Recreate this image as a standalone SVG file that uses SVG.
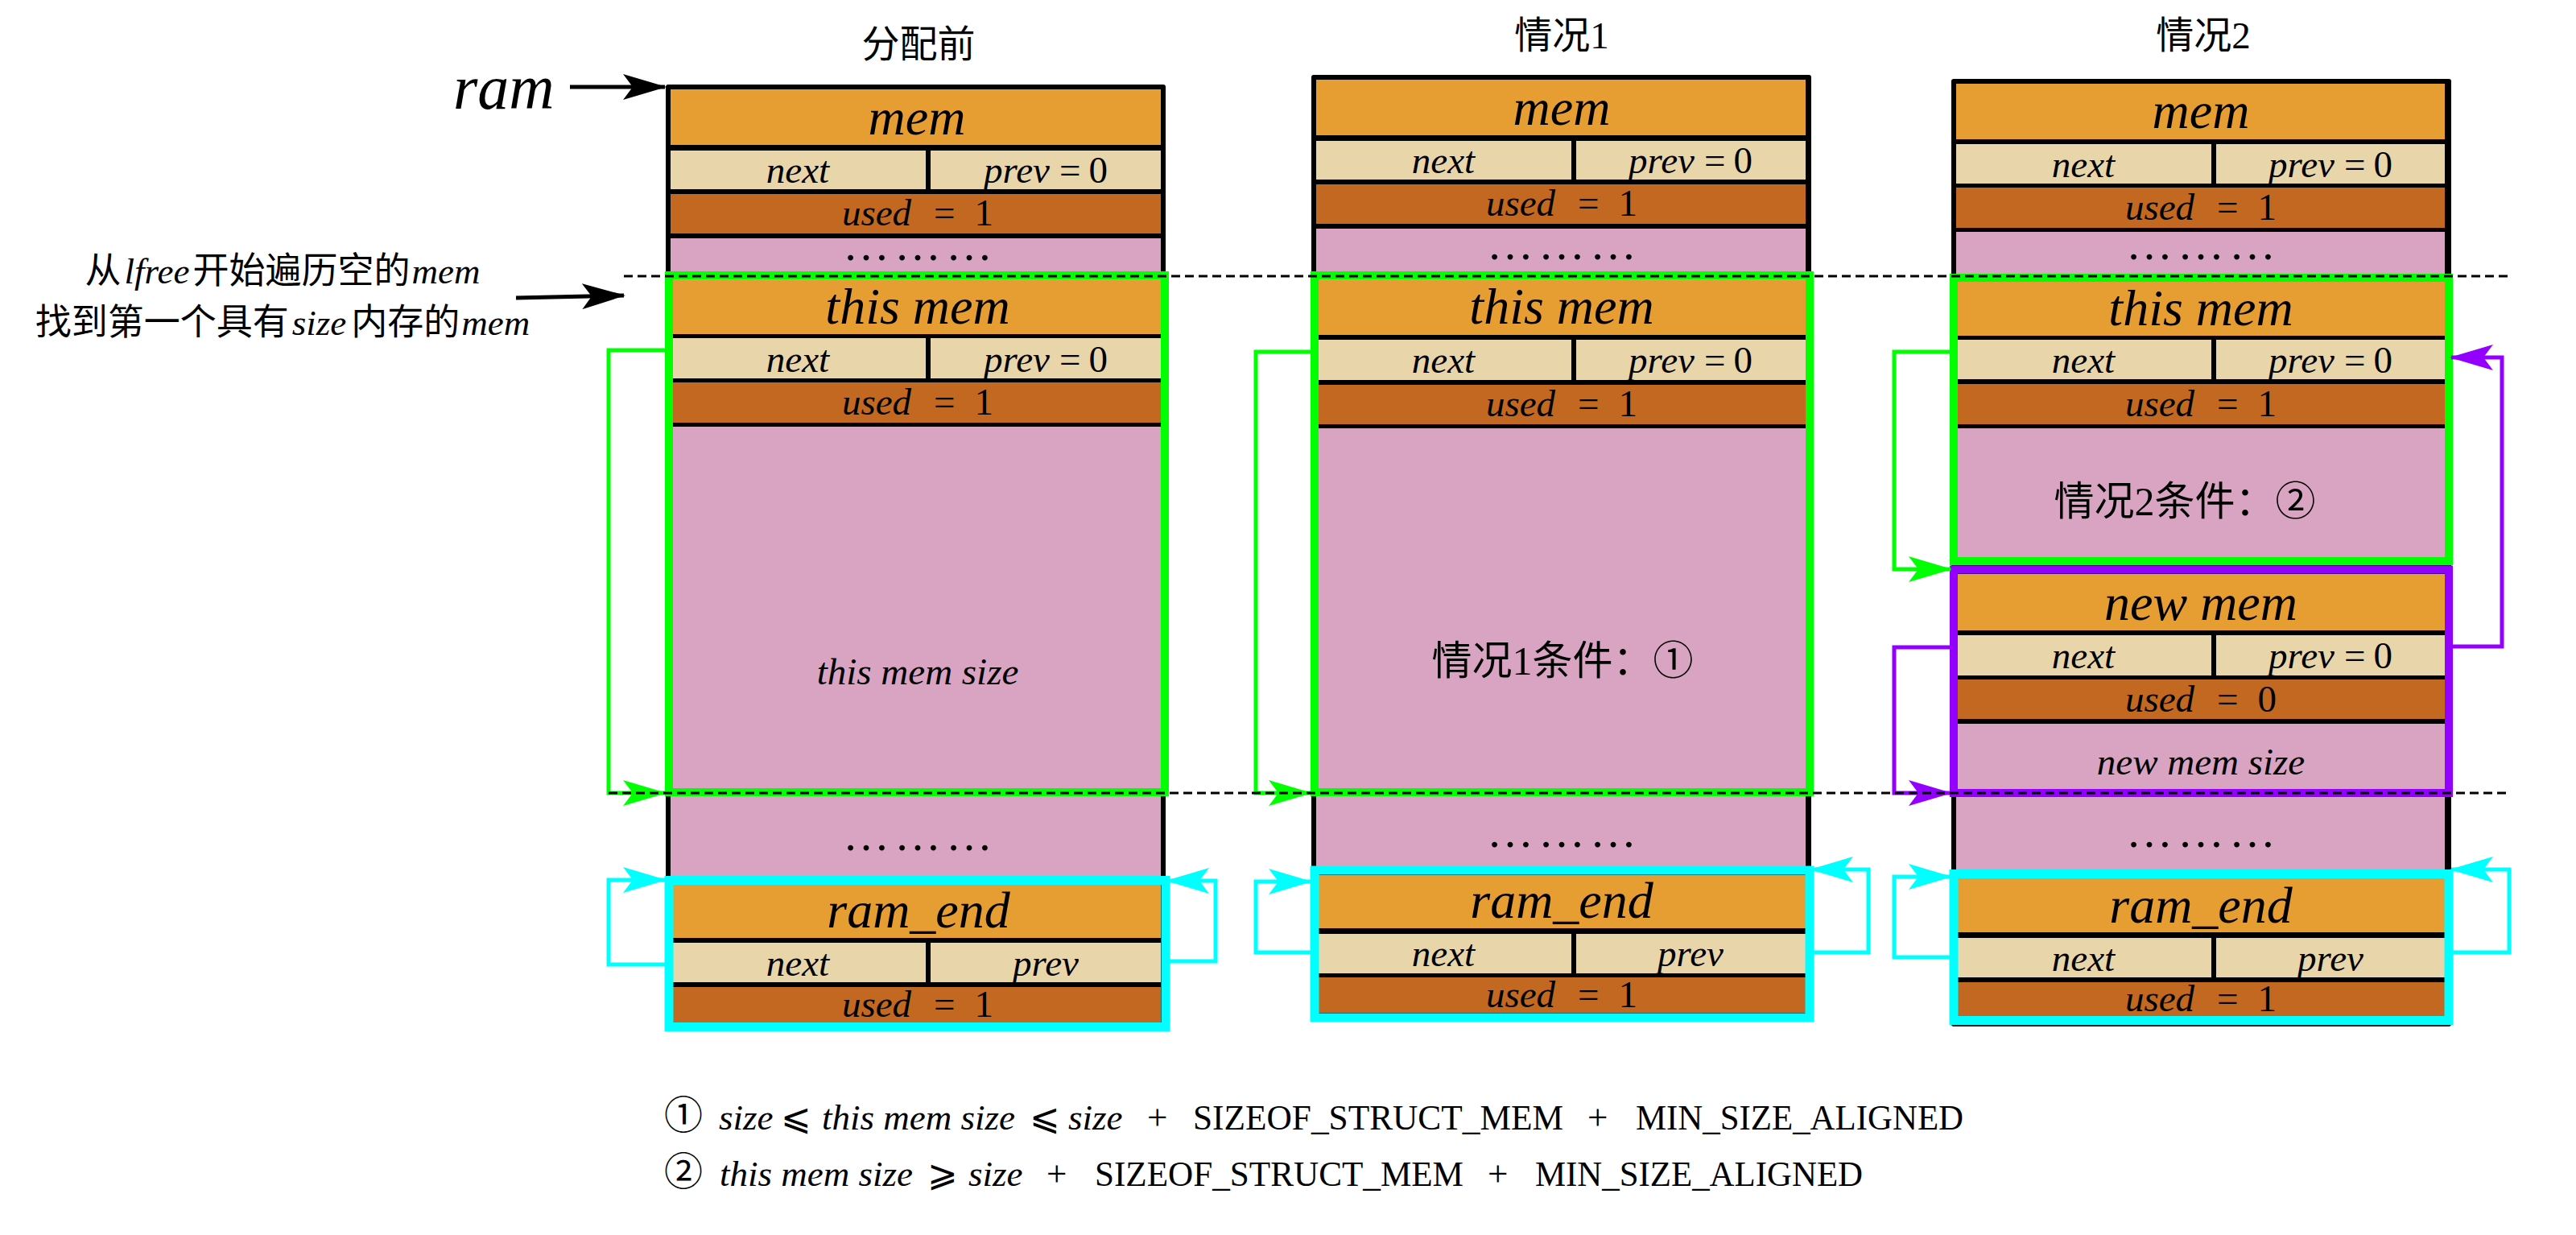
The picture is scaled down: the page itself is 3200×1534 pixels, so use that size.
<svg xmlns="http://www.w3.org/2000/svg" width="3200" height="1534" viewBox="0 0 3200 1534">
<defs>
<marker id="ak" markerUnits="userSpaceOnUse" markerWidth="54" markerHeight="32" viewBox="0 0 54 32" refX="52" refY="16" orient="auto"><path d="M0,0 L54,16 L0,32 L12,16 z" fill="#000"/></marker>
<marker id="ag" markerUnits="userSpaceOnUse" markerWidth="54" markerHeight="32" viewBox="0 0 54 32" refX="52" refY="16" orient="auto"><path d="M0,0 L54,16 L0,32 L12,16 z" fill="#00FF00"/></marker>
<marker id="ac" markerUnits="userSpaceOnUse" markerWidth="54" markerHeight="32" viewBox="0 0 54 32" refX="52" refY="16" orient="auto"><path d="M0,0 L54,16 L0,32 L12,16 z" fill="#00FFFF"/></marker>
<marker id="ap" markerUnits="userSpaceOnUse" markerWidth="54" markerHeight="32" viewBox="0 0 54 32" refX="52" refY="16" orient="auto"><path d="M0,0 L54,16 L0,32 L12,16 z" fill="#9400FF"/></marker>
</defs>
<rect width="3200" height="1534" fill="#fff"/>

<g id="titles">
<text font-family="Liberation Serif, Noto Sans CJK SC, sans-serif" font-size="47" text-anchor="middle" x="1141" y="71">分配前</text>
<text font-family="Liberation Serif, Noto Sans CJK SC, sans-serif" font-size="47" text-anchor="middle" x="1940" y="60">情况1</text>
<text font-family="Liberation Serif, Noto Sans CJK SC, sans-serif" font-size="47" text-anchor="middle" x="2737" y="60">情况2</text>
</g>
<g id="ram-label"><text font-family="Liberation Serif" font-style="italic" x="563" y="135" font-size="78">ram</text></g>
<g id="lfree-label">
<text font-family="Liberation Serif, Noto Sans CJK SC, sans-serif" x="351" y="352" font-size="45" text-anchor="middle">从<tspan font-style="italic" dx="4">lfree</tspan><tspan dx="4">开始遍历空的</tspan><tspan font-style="italic" dx="2">mem</tspan></text>
<text font-family="Liberation Serif, Noto Sans CJK SC, sans-serif" x="351" y="416" font-size="45" text-anchor="middle">找到第一个具有<tspan font-style="italic" dx="4">size</tspan><tspan dx="6">内存的</tspan><tspan font-style="italic" dx="2">mem</tspan></text>
</g>

<g id="col1">
<rect fill="#000" x="827" y="105" width="621" height="1170" rx="3"/>
<g id="c1-mem">
<rect fill="#E69D31" x="833" y="111" width="609" height="69"/>
<rect fill="#E9D5AA" x="833" y="187" width="317" height="48"/>
<rect fill="#E9D5AA" x="1156" y="187" width="286" height="48"/>
<rect fill="#C26820" x="833" y="241" width="609" height="49"/>
<text font-family="Liberation Serif" font-size="64" font-style="italic" text-anchor="middle" x="1139" y="167">mem</text>
<text font-family="Liberation Serif" font-size="47" font-style="italic" text-anchor="middle" x="991" y="227">next</text>
<text font-family="Liberation Serif" font-size="47" text-anchor="middle" x="1299" y="227"><tspan font-style="italic">prev</tspan><tspan dx="12">=</tspan><tspan dx="10">0</tspan></text>
<text font-family="Liberation Serif" font-size="47" text-anchor="middle" x="1140" y="280"><tspan font-style="italic">used</tspan><tspan dx="28">=</tspan><tspan dx="24">1</tspan></text>
</g>
<rect fill="#D9A4C2" x="833" y="296" width="609" height="52"/>
<text font-family="Liberation Serif" font-size="58" letter-spacing="6" text-anchor="middle" x="1143" y="323">………</text>
<g id="c1-thismem">
<rect fill="#E69D31" x="833" y="348" width="609" height="67"/>
<rect fill="#E9D5AA" x="833" y="420" width="317" height="50"/>
<rect fill="#E9D5AA" x="1156" y="420" width="286" height="50"/>
<rect fill="#C26820" x="833" y="475" width="609" height="50"/>
<rect fill="#D9A4C2" x="833" y="530" width="609" height="563"/>
<text font-family="Liberation Serif" font-size="64" font-style="italic" text-anchor="middle" x="1140" y="402">this mem</text>
<text font-family="Liberation Serif" font-size="47" font-style="italic" text-anchor="middle" x="991" y="462">next</text>
<text font-family="Liberation Serif" font-size="47" text-anchor="middle" x="1299" y="462"><tspan font-style="italic">prev</tspan><tspan dx="12">=</tspan><tspan dx="10">0</tspan></text>
<text font-family="Liberation Serif" font-size="47" text-anchor="middle" x="1140" y="515"><tspan font-style="italic">used</tspan><tspan dx="28">=</tspan><tspan dx="24">1</tspan></text>
<text font-family="Liberation Serif" font-size="47" font-style="italic" text-anchor="middle" x="1140" y="850">this mem size</text>
<rect fill="none" stroke="#00FF00" stroke-width="10" x="831" y="342" width="616" height="642"/>
</g>
<text font-family="Liberation Serif" font-size="58" letter-spacing="6" text-anchor="middle" x="1143" y="1056">………</text>
<g id="c1-ramend">
<rect fill="#E69D31" x="833" y="1099" width="609" height="66"/>
<rect fill="#E9D5AA" x="833" y="1171" width="317" height="49"/>
<rect fill="#E9D5AA" x="1156" y="1171" width="286" height="49"/>
<rect fill="#C26820" x="833" y="1226" width="609" height="44"/>
<text font-family="Liberation Serif" font-size="64" font-style="italic" text-anchor="middle" x="1141" y="1152">ram_end</text>
<text font-family="Liberation Serif" font-size="47" font-style="italic" text-anchor="middle" x="991" y="1212">next</text>
<text font-family="Liberation Serif" font-size="47" font-style="italic" text-anchor="middle" x="1299" y="1212">prev</text>
<text font-family="Liberation Serif" font-size="47" text-anchor="middle" x="1140" y="1263"><tspan font-style="italic">used</tspan><tspan dx="28">=</tspan><tspan dx="24">1</tspan></text>
<rect fill="none" stroke="#00FFFF" stroke-width="11" x="831" y="1093.5" width="617" height="182"/>
</g>
</g>

<g id="col2">
<rect fill="#000" x="1629" y="93" width="621" height="1170" rx="3"/>
<g id="c2-mem">
<rect fill="#E69D31" x="1635" y="99" width="608" height="69"/>
<rect fill="#E9D5AA" x="1635" y="175" width="317" height="48"/>
<rect fill="#E9D5AA" x="1958" y="175" width="285" height="48"/>
<rect fill="#C26820" x="1635" y="229" width="608" height="49"/>
<text font-family="Liberation Serif" font-size="64" font-style="italic" text-anchor="middle" x="1940" y="155">mem</text>
<text font-family="Liberation Serif" font-size="47" font-style="italic" text-anchor="middle" x="1793" y="215">next</text>
<text font-family="Liberation Serif" font-size="47" text-anchor="middle" x="2100" y="215"><tspan font-style="italic">prev</tspan><tspan dx="12">=</tspan><tspan dx="10">0</tspan></text>
<text font-family="Liberation Serif" font-size="47" text-anchor="middle" x="1940" y="268"><tspan font-style="italic">used</tspan><tspan dx="28">=</tspan><tspan dx="24">1</tspan></text>
</g>
<rect fill="#D9A4C2" x="1635" y="284" width="608" height="64"/>
<text font-family="Liberation Serif" font-size="58" letter-spacing="6" text-anchor="middle" x="1943" y="322">………</text>
<g id="c2-thismem">
<rect fill="#E69D31" x="1635" y="348" width="608" height="68"/>
<rect fill="#E9D5AA" x="1635" y="422" width="317" height="50"/>
<rect fill="#E9D5AA" x="1958" y="422" width="285" height="50"/>
<rect fill="#C26820" x="1635" y="478" width="608" height="49"/>
<rect fill="#D9A4C2" x="1635" y="532" width="608" height="549"/>
<text font-family="Liberation Serif" font-size="64" font-style="italic" text-anchor="middle" x="1940" y="402">this mem</text>
<text font-family="Liberation Serif" font-size="47" font-style="italic" text-anchor="middle" x="1793" y="463">next</text>
<text font-family="Liberation Serif" font-size="47" text-anchor="middle" x="2100" y="463"><tspan font-style="italic">prev</tspan><tspan dx="12">=</tspan><tspan dx="10">0</tspan></text>
<text font-family="Liberation Serif" font-size="47" text-anchor="middle" x="1940" y="517"><tspan font-style="italic">used</tspan><tspan dx="28">=</tspan><tspan dx="24">1</tspan></text>
<text font-family="Liberation Serif, Noto Sans CJK SC, sans-serif" x="1941" y="838" font-size="50" text-anchor="middle">情况1条件：①</text>
<rect fill="none" stroke="#00FF00" stroke-width="10" x="1633" y="342" width="615" height="642"/>
</g>
<text font-family="Liberation Serif" font-size="58" letter-spacing="6" text-anchor="middle" x="1943" y="1052">………</text>
<g id="c2-ramend">
<rect fill="#E69D31" x="1635" y="1087" width="608" height="66"/>
<rect fill="#E9D5AA" x="1635" y="1160" width="317" height="49"/>
<rect fill="#E9D5AA" x="1958" y="1160" width="285" height="49"/>
<rect fill="#C26820" x="1635" y="1214" width="608" height="44"/>
<text font-family="Liberation Serif" font-size="64" font-style="italic" text-anchor="middle" x="1940" y="1140">ram_end</text>
<text font-family="Liberation Serif" font-size="47" font-style="italic" text-anchor="middle" x="1793" y="1200">next</text>
<text font-family="Liberation Serif" font-size="47" font-style="italic" text-anchor="middle" x="2100" y="1200">prev</text>
<text font-family="Liberation Serif" font-size="47" text-anchor="middle" x="1940" y="1251"><tspan font-style="italic">used</tspan><tspan dx="28">=</tspan><tspan dx="24">1</tspan></text>
<rect fill="none" stroke="#00FFFF" stroke-width="11" x="1633" y="1081" width="615" height="183"/>
</g>
</g>

<g id="col3">
<rect fill="#000" x="2424" y="98" width="621" height="1177" rx="3"/>
<g id="c3-mem">
<rect fill="#E69D31" x="2430" y="104" width="607" height="69"/>
<rect fill="#E9D5AA" x="2430" y="179" width="317" height="49"/>
<rect fill="#E9D5AA" x="2753" y="179" width="284" height="49"/>
<rect fill="#C26820" x="2430" y="233" width="607" height="50"/>
<text font-family="Liberation Serif" font-size="64" font-style="italic" text-anchor="middle" x="2734" y="159">mem</text>
<text font-family="Liberation Serif" font-size="47" font-style="italic" text-anchor="middle" x="2588" y="220">next</text>
<text font-family="Liberation Serif" font-size="47" text-anchor="middle" x="2895" y="220"><tspan font-style="italic">prev</tspan><tspan dx="12">=</tspan><tspan dx="10">0</tspan></text>
<text font-family="Liberation Serif" font-size="47" text-anchor="middle" x="2734" y="273"><tspan font-style="italic">used</tspan><tspan dx="28">=</tspan><tspan dx="24">1</tspan></text>
</g>
<rect fill="#D9A4C2" x="2430" y="288" width="607" height="62"/>
<text font-family="Liberation Serif" font-size="58" letter-spacing="6" text-anchor="middle" x="2737" y="322">………</text>
<g id="c3-thismem">
<rect fill="#E69D31" x="2430" y="350" width="607" height="67"/>
<rect fill="#E9D5AA" x="2430" y="422" width="317" height="49"/>
<rect fill="#E9D5AA" x="2753" y="422" width="284" height="49"/>
<rect fill="#C26820" x="2430" y="477" width="607" height="50"/>
<rect fill="#D9A4C2" x="2430" y="532" width="607" height="170"/>
<text font-family="Liberation Serif" font-size="64" font-style="italic" text-anchor="middle" x="2734" y="404">this mem</text>
<text font-family="Liberation Serif" font-size="47" font-style="italic" text-anchor="middle" x="2588" y="463">next</text>
<text font-family="Liberation Serif" font-size="47" text-anchor="middle" x="2895" y="463"><tspan font-style="italic">prev</tspan><tspan dx="12">=</tspan><tspan dx="10">0</tspan></text>
<text font-family="Liberation Serif" font-size="47" text-anchor="middle" x="2734" y="517"><tspan font-style="italic">used</tspan><tspan dx="28">=</tspan><tspan dx="24">1</tspan></text>
<text font-family="Liberation Serif, Noto Sans CJK SC, sans-serif" x="2714" y="640" font-size="50" text-anchor="middle">情况2条件：②</text>
<rect fill="none" stroke="#00FF00" stroke-width="10" x="2427" y="345" width="615" height="352"/>
</g>
<g id="c3-newmem">
<rect fill="#E69D31" x="2430" y="713" width="607" height="70"/>
<rect fill="#E9D5AA" x="2430" y="789" width="317" height="50"/>
<rect fill="#E9D5AA" x="2753" y="789" width="284" height="50"/>
<rect fill="#C26820" x="2430" y="844" width="607" height="49"/>
<rect fill="#D9A4C2" x="2430" y="899" width="607" height="190"/>
<text font-family="Liberation Serif" font-size="64" font-style="italic" text-anchor="middle" x="2734" y="770">new mem</text>
<text font-family="Liberation Serif" font-size="47" font-style="italic" text-anchor="middle" x="2588" y="830">next</text>
<text font-family="Liberation Serif" font-size="47" text-anchor="middle" x="2895" y="830"><tspan font-style="italic">prev</tspan><tspan dx="12">=</tspan><tspan dx="10">0</tspan></text>
<text font-family="Liberation Serif" font-size="47" text-anchor="middle" x="2734" y="884"><tspan font-style="italic">used</tspan><tspan dx="28">=</tspan><tspan dx="24">0</tspan></text>
<text font-family="Liberation Serif" font-size="47" font-style="italic" text-anchor="middle" x="2734" y="962">new mem size</text>
<rect fill="none" stroke="#9400FF" stroke-width="10" x="2427" y="707.5" width="615" height="277.5"/>
</g>
<text font-family="Liberation Serif" font-size="58" letter-spacing="6" text-anchor="middle" x="2737" y="1052">………</text>
<g id="c3-ramend">
<rect fill="#E69D31" x="2430" y="1091" width="607" height="67"/>
<rect fill="#E9D5AA" x="2430" y="1165" width="317" height="49"/>
<rect fill="#E9D5AA" x="2753" y="1165" width="284" height="49"/>
<rect fill="#C26820" x="2430" y="1220" width="607" height="43"/>
<text font-family="Liberation Serif" font-size="64" font-style="italic" text-anchor="middle" x="2734" y="1146">ram_end</text>
<text font-family="Liberation Serif" font-size="47" font-style="italic" text-anchor="middle" x="2588" y="1206">next</text>
<text font-family="Liberation Serif" font-size="47" font-style="italic" text-anchor="middle" x="2895" y="1206">prev</text>
<text font-family="Liberation Serif" font-size="47" text-anchor="middle" x="2734" y="1256"><tspan font-style="italic">used</tspan><tspan dx="28">=</tspan><tspan dx="24">1</tspan></text>
<rect fill="none" stroke="#00FFFF" stroke-width="11" x="2427" y="1085.5" width="615" height="182"/>
</g>
</g>

<g id="connectors" fill="none" stroke-width="5">
<path stroke="#000" d="M708,108 H826" marker-end="url(#ak)"/>
<path stroke="#000" d="M641,370 L775,367" marker-end="url(#ak)"/>
<path stroke="#00FF00" d="M828,435 H756 V985 H826" marker-end="url(#ag)"/>
<path stroke="#00FFFF" d="M828,1198 H756 V1093 H826" marker-end="url(#ac)"/>
<path stroke="#00FFFF" d="M1450,1194 H1510 V1094 H1450" marker-end="url(#ac)"/>
<path stroke="#00FF00" d="M1630,437 H1560 V985 H1628" marker-end="url(#ag)"/>
<path stroke="#00FFFF" d="M1630,1183 H1560 V1095 H1628" marker-end="url(#ac)"/>
<path stroke="#00FFFF" d="M2250,1183 H2321 V1080 H2250" marker-end="url(#ac)"/>
<path stroke="#00FF00" d="M2425,437 H2353 V707 H2423" marker-end="url(#ag)"/>
<path stroke="#9400FF" d="M2425,804 H2353 V985 H2423" marker-end="url(#ap)"/>
<path stroke="#9400FF" d="M3045,803 H3108 V444 H3045" marker-end="url(#ap)"/>
<path stroke="#00FFFF" d="M2425,1189 H2353 V1089 H2423" marker-end="url(#ac)"/>
<path stroke="#00FFFF" d="M3045,1183 H3117 V1080 H3045" marker-end="url(#ac)"/>
</g>

<g id="guides" fill="none" stroke="#000" stroke-width="3" stroke-dasharray="11 6">
<path d="M775,343 H3115"/>
<path d="M756,985 H3117"/>
</g>

<g id="conditions">
<text font-family="Liberation Serif" font-size="45" y="1403"><tspan font-family="Noto Sans CJK SC" font-size="48" x="825" y="1402">①</tspan><tspan font-style="italic" x="893" y="1403">size</tspan><tspan font-family="DejaVu Serif" x="970">⩽</tspan><tspan font-style="italic" x="1021">this mem size</tspan><tspan font-family="DejaVu Serif" x="1279">⩽</tspan><tspan font-style="italic" x="1327">size</tspan><tspan x="1425">+</tspan><tspan x="1482" textLength="460" lengthAdjust="spacingAndGlyphs">SIZEOF_STRUCT_MEM</tspan><tspan x="1972">+</tspan><tspan x="2032" textLength="407" lengthAdjust="spacingAndGlyphs">MIN_SIZE_ALIGNED</tspan></text>
<text font-family="Liberation Serif" font-size="45" y="1473"><tspan font-family="Noto Sans CJK SC" font-size="48" x="825" y="1472">②</tspan><tspan font-style="italic" x="894" y="1473">this mem size</tspan><tspan font-family="DejaVu Serif" x="1152">⩾</tspan><tspan font-style="italic" x="1203">size</tspan><tspan x="1300">+</tspan><tspan x="1360" textLength="458" lengthAdjust="spacingAndGlyphs">SIZEOF_STRUCT_MEM</tspan><tspan x="1848">+</tspan><tspan x="1907" textLength="407" lengthAdjust="spacingAndGlyphs">MIN_SIZE_ALIGNED</tspan></text>
</g>
</svg>
